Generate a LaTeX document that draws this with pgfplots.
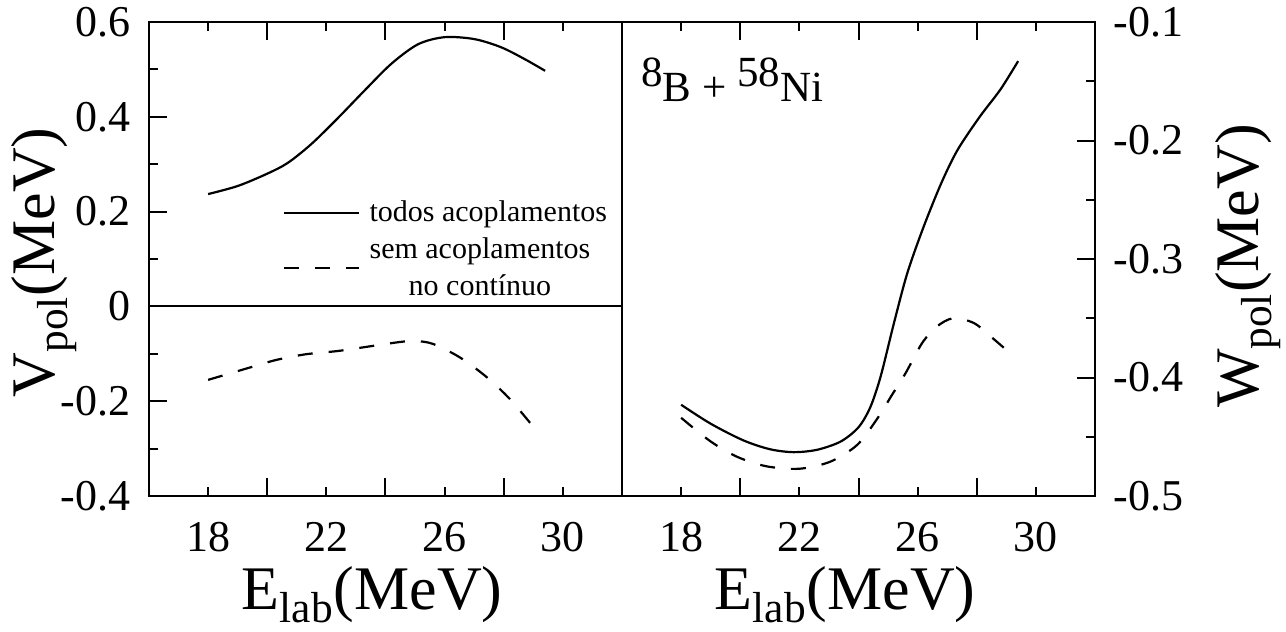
\documentclass[border=0pt]{standalone}
\usepackage{fontspec}
\setmainfont{Liberation Serif}
\usepackage{pgfplots}
\usepackage{pgfplotstable}
\pgfplotsset{compat=1.18}

% real part of the polarization potential
\pgfplotstableread{
E     V
18.0  0.237
19.0  0.254
20.0  0.280
20.7  0.303
21.5  0.343
22.4  0.398
23.3  0.456
24.2  0.512
25.1  0.553
26.0  0.568
27.0  0.564
27.9  0.547
28.7  0.522
29.4  0.497
}\Vall
\pgfplotstableread{
E     V
18.0  -0.155
19.3  -0.131
20.3  -0.113
21.3  -0.101
22.4  -0.094
23.5  -0.084
24.5  -0.075
25.0  -0.073
25.6  -0.079
26.5  -0.107
27.4  -0.148
28.2  -0.195
29.0  -0.254
}\Vnocont
% imaginary part of the polarization potential
\pgfplotstableread{
E     W
18.0  -0.423
19.0  -0.439
20.1  -0.453
21.0  -0.4605
21.8  -0.463
22.6  -0.461
23.4  -0.454
24.0  -0.442
24.4  -0.425
24.75 -0.399
25.2  -0.354
25.65 -0.312
26.2  -0.273
26.8  -0.236
27.35 -0.208
28.1  -0.180
28.8  -0.157
29.4  -0.133
}\Wall
\pgfplotstableread{
E     W
18.0  -0.434
19.0  -0.454
19.9  -0.467
20.9  -0.475
22.0  -0.477
23.05 -0.471
23.95 -0.457
24.6  -0.436
25.15 -0.414
25.6  -0.396
26.15 -0.371
26.65 -0.357
27.2  -0.350
27.9  -0.354
28.5  -0.366
29.15 -0.380
}\Wnocont

\pgfplotsset{
  panel/.style={
    scale only axis, width=236.5pt, height=237pt,
    xmin=16, xmax=32,
    axis line style={line width=1.2pt},
    tick style={line width=1pt, black},
    major tick length=9pt, minor tick length=4.5pt,
    /pgf/number format/assume math mode=true,
    tick label style={font=\fontsize{22}{26}\selectfont, inner sep=0pt},
    xticklabel shift=13pt, yticklabel shift=9pt,
    xtick={20,24,28}, xticklabels={,,},
    extra x ticks={18,22,26,30},
    extra x tick labels={18,22,26,30},
    extra x tick style={major tick length=4.5pt},
    xlabel={E\textsubscript{lab}(MeV)},
    xlabel style={font=\fontsize{31}{36}\selectfont, inner sep=0pt,
      at={(axis description cs:0.472,0)}, anchor=north, yshift=-35pt},
    ylabel style={font=\fontsize{31}{36}\selectfont, inner sep=0pt, anchor=center},
    curve/.style={line width=1.1pt, black, smooth},
    nocont/.style={line width=1.1pt, black, smooth, dash pattern=on 7.5pt off 8pt},
  }
}

\begin{document}
\begin{tikzpicture}
\path[use as bounding box] (-74.5pt,-68pt) rectangle (568.5pt,248pt);

\begin{axis}[panel,
  at={(0pt,0pt)}, anchor=south west,
  ymin=-0.4, ymax=0.6,
  ytick={-0.4,-0.2,0,0.2,0.4,0.6},
  yticklabels={-0.4,-0.2,0,0.2,0.4,0.6},
  minor ytick={-0.3,-0.1,0.1,0.3,0.5},
  ytick pos=left,
  ylabel={V\textsubscript{pol}(MeV)},
  ylabel style={at={(axis description cs:-0.222,0.493)}},
  legend style={at={(axis description cs:0.2706,0.64)}, anchor=north west,
    draw=none, fill=none, font=\fontsize{15}{18.5}\selectfont,
    cells={align=center}, row sep=2.5pt},
  legend cell align=left,
  legend image code/.code={\draw[#1] (0pt,0pt) -- (37.5pt,0pt); \path (40pt,0pt);},
]
\addplot[line width=1pt, black, forget plot] coordinates {(16,0) (32,0)};
\addplot[curve] table[x=E, y=V] {\Vall};
\addlegendentry{todos acoplamentos}
\addplot[nocont] table[x=E, y=V] {\Vnocont};
\addlegendentry{sem acoplamentos\\no contínuo}
\end{axis}

\begin{axis}[panel,
  at={(236.5pt,0pt)}, anchor=south west,
  ymin=-0.5, ymax=-0.1,
  ytick={-0.5,-0.4,-0.3,-0.2,-0.1},
  yticklabels={-0.5,-0.4,-0.3,-0.2,-0.1},
  minor ytick={-0.45,-0.35,-0.25,-0.15},
  ytick pos=right, yticklabel pos=right,
  ylabel={W\textsubscript{pol}(MeV)},
  ylabel style={at={(axis description cs:1.324,0.485)}},
]
\addplot[curve] table[x=E, y=W] {\Wall};
\addplot[nocont] table[x=E, y=W] {\Wnocont};
\node[anchor=north west, inner sep=0pt, font=\fontsize{21.5}{26}\selectfont]
  at (axis description cs:0.04,0.925)
  {\raisebox{0.35em}{8}B + \raisebox{0.35em}{58}Ni};
\end{axis}
\end{tikzpicture}
\end{document}
